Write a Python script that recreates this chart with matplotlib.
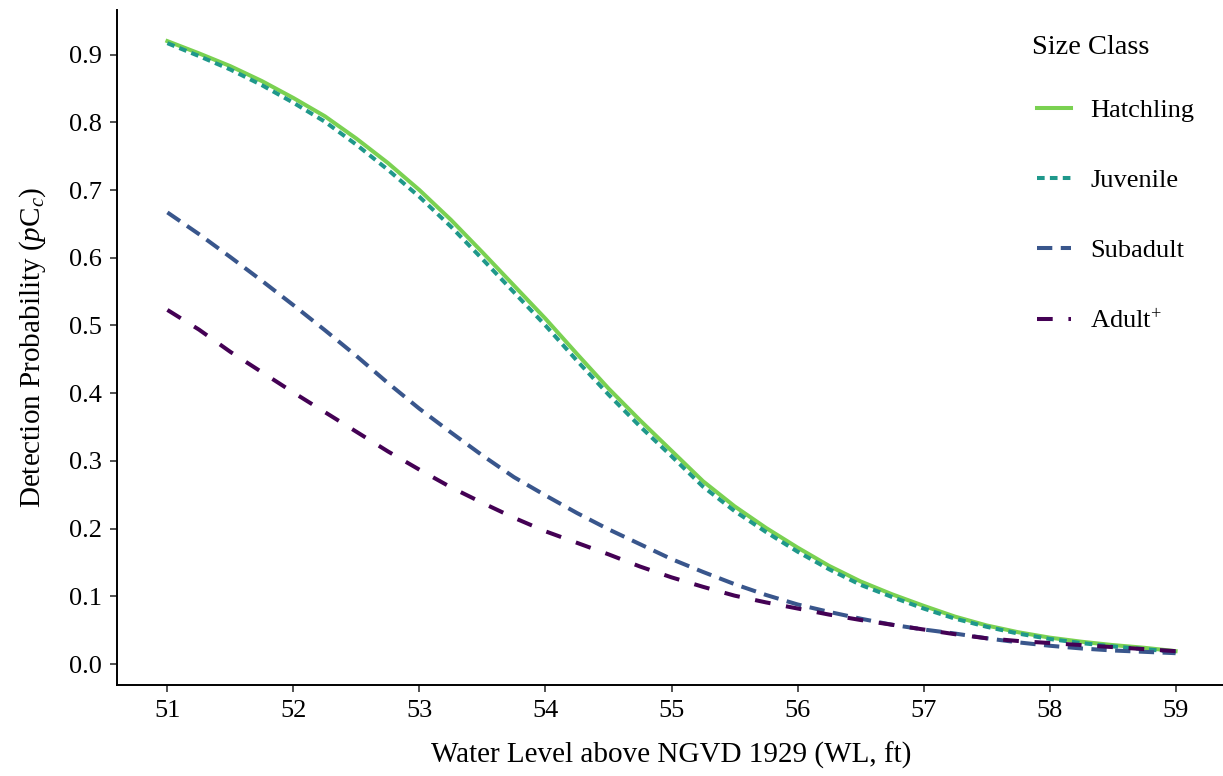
import matplotlib
matplotlib.use('Agg')
import matplotlib.pyplot as plt
import numpy as np

# water level (ft) and predicted detection probability per size class
water_level = [51.00, 51.25, 51.50, 51.75, 52.00, 52.25, 52.50, 52.75, 53.00,
               53.25, 53.50, 53.75, 54.00, 54.25, 54.50, 54.75, 55.00, 55.25,
               55.50, 55.75, 56.00, 56.25, 56.50, 56.75, 57.00, 57.25, 57.50,
               57.75, 58.00, 58.25, 58.50, 58.75, 59.00]
hatchling = [0.920, 0.902, 0.883, 0.861, 0.836, 0.809, 0.776, 0.740, 0.700,
             0.656, 0.608, 0.559, 0.510, 0.458, 0.407, 0.360, 0.315, 0.270,
             0.233, 0.201, 0.172, 0.145, 0.122, 0.103, 0.086, 0.070, 0.057,
             0.047, 0.039, 0.033, 0.028, 0.024, 0.019]
juvenile = [0.917, 0.898, 0.878, 0.855, 0.829, 0.801, 0.767, 0.730, 0.690,
            0.646, 0.598, 0.549, 0.500, 0.448, 0.398, 0.351, 0.307, 0.262,
            0.226, 0.195, 0.166, 0.140, 0.117, 0.099, 0.082, 0.067, 0.055,
            0.045, 0.037, 0.031, 0.026, 0.022, 0.018]
subadult = [0.667, 0.635, 0.601, 0.566, 0.530, 0.493, 0.455, 0.415, 0.377,
            0.342, 0.308, 0.276, 0.249, 0.223, 0.199, 0.177, 0.155, 0.136,
            0.118, 0.102, 0.088, 0.077, 0.067, 0.058, 0.051, 0.045, 0.038,
            0.032, 0.027, 0.023, 0.020, 0.018, 0.016]
adult = [0.523, 0.494, 0.461, 0.431, 0.401, 0.372, 0.343, 0.314, 0.287,
         0.261, 0.238, 0.216, 0.196, 0.179, 0.162, 0.144, 0.128, 0.114,
         0.101, 0.091, 0.082, 0.073, 0.065, 0.058, 0.051, 0.044, 0.038,
         0.034, 0.031, 0.028, 0.025, 0.022, 0.019]

labels = ['Hatchling', 'Juvenile', 'Subadult', r'Adult$^{+}$']
xticks = [51, 52, 53, 54, 55, 56, 57, 58, 59]
yticks = [0.0, 0.1, 0.2, 0.3, 0.4, 0.5, 0.6, 0.7, 0.8, 0.9]

# viridis, trimmed at 0.8 so the lightest class stays green
colors = [plt.cm.viridis(v) for v in np.linspace(0.8, 0.0, 4)]
dashes = [None, (1.9, 1.3), (3.8, 2.1), (3.9, 3.9)]

plt.rcParams['font.family'] = ['Liberation Serif', 'DejaVu Serif']
plt.rcParams['mathtext.fontset'] = 'custom'
plt.rcParams['mathtext.rm'] = 'Liberation Serif'
plt.rcParams['mathtext.it'] = 'Liberation Serif:italic'

fig = plt.figure(figsize=(12.23, 7.76), dpi=100)
W, H = 1223, 776
ax = fig.add_axes([117 / W, (H - 685) / H, (1226 - 117) / W, (685 - 10) / H])

series = [hatchling, juvenile, subadult, adult]
for y, lab, c, d in zip(series, labels, colors, dashes):
    line, = ax.plot(water_level, y, color=c, lw=2.9, label=lab)
    if d is not None:
        line.set_dashes(d)

ax.set_xlim(50.6, 59.4)
ax.set_ylim(-0.031, 0.966)
ax.set_xticks(xticks)
ax.set_xticklabels([str(t) for t in xticks])
ax.set_yticks(yticks)
ax.set_yticklabels(['%.1f' % t for t in yticks])

for side in ['top', 'right']:
    ax.spines[side].set_visible(False)
for side in ['left', 'bottom']:
    ax.spines[side].set_linewidth(1.4)
ax.tick_params(axis='both', length=5, width=1.2, labelsize=19, color='#333333',
               pad=6)

ax.set_xlabel('Water Level above NGVD 1929 (WL, ft)', fontsize=21, labelpad=14)
ax.set_ylabel(r'Detection Probability ($\mathit{p}\mathrm{C}_{\mathit{c}}$)',
              fontsize=21, labelpad=15)

# legend title drawn separately so the key spacing can be set on its own
fig.text(1032 / W, 1 - 47 / H, 'Size Class', fontsize=20.5, ha='left', va='center')
leg = ax.legend(loc='upper left',
                bbox_to_anchor=(1037 / W, 1 - 99 / H), bbox_transform=fig.transFigure,
                frameon=False, fontsize=19,
                handlelength=1.3, handletextpad=0.72, labelspacing=1.76,
                borderaxespad=0, borderpad=0)

fig.savefig('out.png', dpi=100)
